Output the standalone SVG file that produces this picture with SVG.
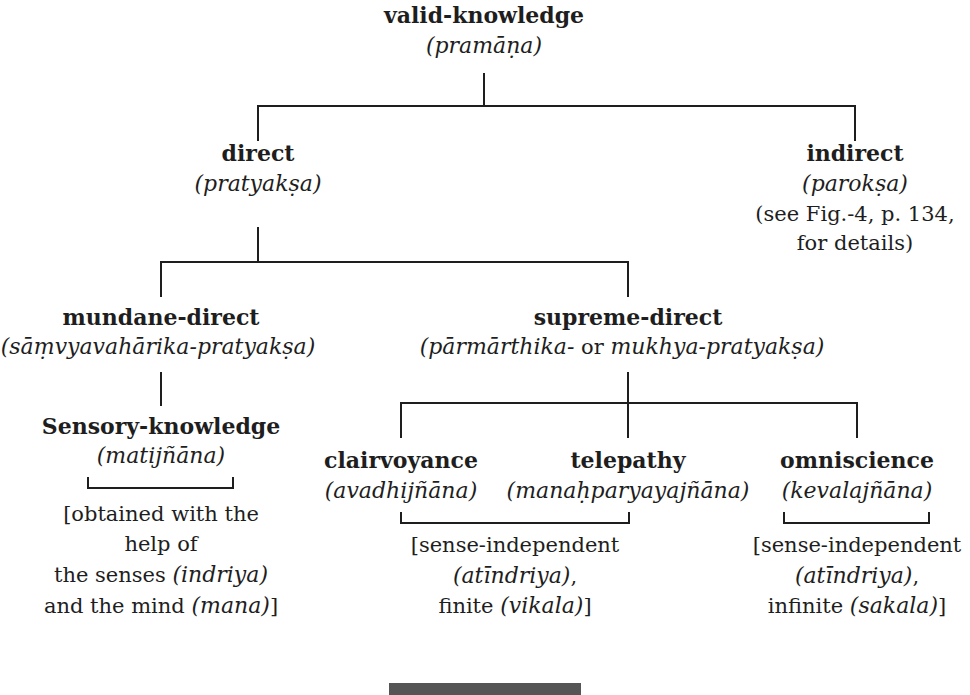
<svg xmlns="http://www.w3.org/2000/svg" width="970" height="695" viewBox="0 0 970 695">
  <style>
    text { font-family: "DejaVu Serif", "Liberation Serif", serif; font-size: 21px; fill: #1e1e1e; text-anchor: middle; }
    .b { font-weight: bold; font-size: 22px; }
    .i { font-style: italic; font-size: 22px; }
    .n { font-style: normal; font-size: 21px; }
    .link { fill: none; stroke: #1e1e1e; stroke-width: 2; }
  </style>

  <!-- connectors -->
  <g id="connectors" class="link">
    <path d="M484 73 V106 M258 141 V106 H855 V141"/>
    <path d="M258 227 V262 M161 297 V262 H628 V297"/>
    <path d="M161 372 V406"/>
    <path d="M628 372 V438 M401 438 V403 H857 V438"/>
    <path d="M88 477 V488 H233 V477"/>
    <path d="M401 512 V523 H629 V512"/>
    <path d="M784 512 V523 H929 V512"/>
  </g>

  <g id="valid-knowledge">
    <text class="b" x="484" y="23">valid-knowledge</text>
    <text class="i" x="484" y="53">(pramāṇa)</text>
  </g>

  <g id="direct">
    <text class="b" x="258" y="161">direct</text>
    <text class="i" x="258" y="191">(pratyakṣa)</text>
  </g>

  <g id="indirect">
    <text class="b" x="855" y="161">indirect</text>
    <text class="i" x="855" y="191">(parokṣa)</text>
    <text x="855" y="221">(see Fig.-4, p. 134,</text>
    <text x="855" y="250">for details)</text>
  </g>

  <g id="mundane-direct">
    <text class="b" x="161" y="325">mundane-direct</text>
    <text class="i" x="158" y="354">(sāṃvyavahārika-pratyakṣa)</text>
  </g>

  <g id="supreme-direct">
    <text class="b" x="628" y="325">supreme-direct</text>
    <text class="i" x="622" y="354">(pārmārthika-<tspan class="n"> or </tspan>mukhya-pratyakṣa)</text>
  </g>

  <g id="sensory-knowledge">
    <text class="b" x="161" y="434">Sensory-knowledge</text>
    <text class="i" x="161" y="463">(matijñāna)</text>
    <text x="161" y="521">[obtained with the</text>
    <text x="161" y="551">help of</text>
    <text x="161" y="582">the senses <tspan class="i">(indriya)</tspan></text>
    <text x="161" y="613">and the mind <tspan class="i">(mana)</tspan>]</text>
  </g>

  <g id="clairvoyance">
    <text class="b" x="401" y="468">clairvoyance</text>
    <text class="i" x="401" y="498">(avadhijñāna)</text>
  </g>

  <g id="telepathy">
    <text class="b" x="628" y="468">telepathy</text>
    <text class="i" x="628" y="498">(manaḥparyayajñāna)</text>
  </g>

  <g id="finite-note">
    <text x="515" y="552">[sense-independent</text>
    <text class="i" x="515" y="583">(atīndriya)<tspan class="n">,</tspan></text>
    <text x="515" y="613">finite <tspan class="i">(vikala)</tspan>]</text>
  </g>

  <g id="omniscience">
    <text class="b" x="857" y="468">omniscience</text>
    <text class="i" x="857" y="498">(kevalajñāna)</text>
    <text x="857" y="552">[sense-independent</text>
    <text class="i" x="857" y="583">(atīndriya)<tspan class="n">,</tspan></text>
    <text x="857" y="613">infinite <tspan class="i">(sakala)</tspan>]</text>
  </g>

  <rect x="389" y="683" width="192" height="12" fill="#555"/>
</svg>
